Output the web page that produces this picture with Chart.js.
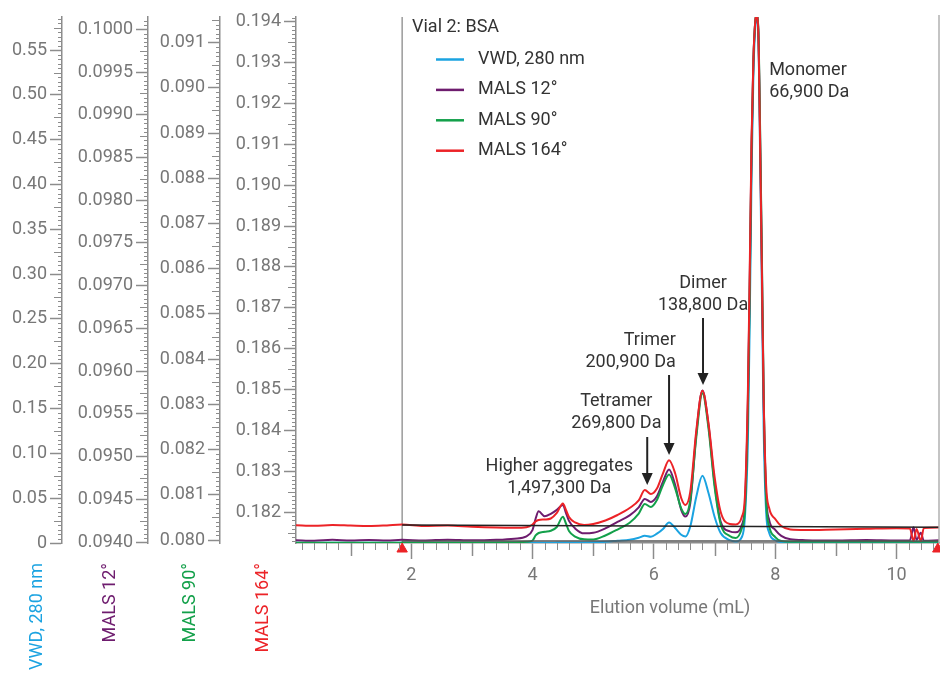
<!DOCTYPE html>
<html lang="en">
<head>
<meta charset="UTF-8">
<title>Vial 2: BSA</title>
<script src="https://cdn.jsdelivr.net/npm/chart.js"></script>
<style>
  html, body { margin: 0; padding: 0; background: #fff; }
  #wrap { width: 940px; height: 673px; }
</style>
</head>
<body>
<div id="wrap"><canvas id="secChart" width="940" height="673"></canvas></div>
<script>
// elution volume (mL), shared by all four traces
const elution = [0.1, 0.4, 0.7, 1.0, 1.3, 1.6, 1.85, 2.2, 2.6, 3.0,
  3.4, 3.7, 3.9, 4.0, 4.05, 4.1, 4.2, 4.3, 4.4, 4.5,
  4.55, 4.6, 4.7, 4.85, 5.0, 5.2, 5.4, 5.6, 5.75, 5.85,
  5.95, 6.05, 6.15, 6.25, 6.35, 6.45, 6.52, 6.6, 6.7, 6.8,
  6.9, 7.0, 7.1, 7.25, 7.35, 7.45, 7.5, 7.55, 7.58, 7.61,
  7.64, 7.67, 7.69, 7.72, 7.75, 7.78, 7.81, 7.85, 7.9, 8.0,
  8.1, 8.25, 8.5, 9.0, 9.5, 10.0, 10.22, 10.28, 10.33, 10.4,
  10.45, 10.7];

const vwd280 = [0.0003, 0.0003, 0.0003, 0.0003, 0.0003, 0.0003, 0.0003, 0.0003, 0.0003, 0.0003,
  0.0003, 0.0003, 0.0003, 0.0003, 0.0003, 0.0003, 0.0003, 0.0003, 0.00045, 0.00056,
  0.00056, 0.00056, 0.00056, 0.00067, 0.00089, 0.00145, 0.00256, 0.00368, 0.00591, 0.00814,
  0.00702, 0.01037, 0.01561, 0.02297, 0.01672, 0.00925, 0.00736, 0.01851, 0.05195, 0.07503,
  0.05575, 0.02932, 0.01115, 0.00312, 0.00178, 0.0067, 0.02821, 0.11517, 0.24896, 0.41062,
  0.52211, 0.57451, 0.58566, 0.57005, 0.43849, 0.2824, 0.12632, 0.0349, 0.01148, 0.00312,
  0.00089, 0.0003, 0.0003, 0.0003, 0.0003, 0.00056, 0.0003, 0.0003, 0.0003, 0.0003,
  0.0003, 0.0003];

const mals12 = [0.094023, 0.094016, 0.094027, 0.094019, 0.094025, 0.094018, 0.094027, 0.094019, 0.094029, 0.094021,
  0.094027, 0.094041, 0.094068, 0.094144, 0.094273, 0.094360, 0.094302, 0.094331, 0.094378, 0.094436,
  0.094343, 0.094249, 0.094161, 0.094103, 0.094109, 0.094161, 0.094237, 0.094313, 0.094407, 0.094506,
  0.094471, 0.094536, 0.094709, 0.094850, 0.094670, 0.094378, 0.094299, 0.094456, 0.095275, 0.095773,
  0.095372, 0.094690, 0.094241, 0.094126, 0.094115, 0.094202, 0.094436, 0.095664, 0.097068, 0.098647,
  0.099641, 0.100085, 0.100167, 0.100015, 0.098799, 0.097278, 0.095664, 0.094553, 0.094261, 0.094144,
  0.094074, 0.094033, 0.094023, 0.094019, 0.094025, 0.094019, 0.094021, 0.094173, 0.094027, 0.094109,
  0.094015, 0.094021];

const mals90 = [0.079940, 0.079940, 0.079942, 0.079940, 0.079940, 0.079942, 0.079940, 0.079940, 0.079942, 0.079940,
  0.079945, 0.079951, 0.079960, 0.079989, 0.080100, 0.080155, 0.080184, 0.080206, 0.080288, 0.080515,
  0.080365, 0.080199, 0.080077, 0.080015, 0.080011, 0.080100, 0.080232, 0.080383, 0.080586, 0.080796,
  0.080730, 0.080885, 0.081217, 0.081449, 0.081144, 0.080701, 0.080575, 0.080885, 0.082285, 0.083245,
  0.082471, 0.081179, 0.080354, 0.080088, 0.080044, 0.080259, 0.080664, 0.082876, 0.085530, 0.088627,
  0.090573, 0.091458, 0.091613, 0.091370, 0.089180, 0.086304, 0.083207, 0.080885, 0.080310, 0.080066,
  0.079978, 0.079962, 0.079962, 0.079960, 0.079962, 0.079962, 0.079962, 0.079962, 0.079962, 0.079962,
  0.079962, 0.079962];

const mals164 = [0.181682, 0.181670, 0.181687, 0.181675, 0.181665, 0.181680, 0.181699, 0.181665, 0.181675, 0.181645,
  0.181626, 0.181621, 0.181636, 0.181702, 0.181775, 0.181812, 0.181824, 0.181848, 0.181983, 0.182215,
  0.182056, 0.181885, 0.181751, 0.181689, 0.181714, 0.181799, 0.181934, 0.182105, 0.182289, 0.182545,
  0.182448, 0.182582, 0.182954, 0.183272, 0.182954, 0.182350, 0.182179, 0.182504, 0.184013, 0.184974,
  0.184177, 0.182871, 0.182015, 0.181714, 0.181702, 0.181892, 0.182374, 0.184991, 0.187927, 0.191106,
  0.193063, 0.193993, 0.194164, 0.193797, 0.191106, 0.187927, 0.184747, 0.182668, 0.182105, 0.181836,
  0.181665, 0.181579, 0.181567, 0.181582, 0.181596, 0.181609, 0.181604, 0.181298, 0.181592, 0.181298,
  0.181616, 0.181628];

// baselines and integration markers
const baselineVol = [1.85, 10.7];
const mals164Baseline = [0.181689, 0.181633];
const mals12Baseline = [0.094013, 0.094013];
const markerVol = [1.85, 10.68];
const markerLevel = 0.181102;

// tick labels
const volumeTicks = [2, 4, 6, 8, 10];
const vwdTicks = [0, 0.05, 0.1, 0.15, 0.2, 0.25, 0.3, 0.35, 0.4, 0.45, 0.5, 0.55];
const mals12Ticks = [0.094, 0.0945, 0.095, 0.0955, 0.096, 0.0965, 0.097, 0.0975, 0.098, 0.0985, 0.099, 0.0995, 0.1];
const mals90Ticks = [0.08, 0.081, 0.082, 0.083, 0.084, 0.085, 0.086, 0.087, 0.088, 0.089, 0.09, 0.091];
const mals164Ticks = [0.182, 0.183, 0.184, 0.185, 0.186, 0.187, 0.188, 0.189, 0.19, 0.191, 0.192, 0.193, 0.194];

const series = [
  { label: 'VWD, 280 nm', axis: 'yVwd', values: vwd280, color: '#1ba3e1', titleX: 37 },
  { label: 'MALS 12°', axis: 'yMals12', values: mals12, color: '#6e1c6e', titleX: 110 },
  { label: 'MALS 90°', axis: 'yMals90', values: mals90, color: '#13a04a', titleX: 190 },
  { label: 'MALS 164°', axis: 'yMals164', values: mals164, color: '#ec2327', titleX: 263 }
];

// peak labels: x in mL, y in px
const peakNotes = [
  { lines: ['Monomer', '66,900 Da'], vol: 7.9, y: 70, align: 'left' },
  { lines: ['Dimer', '138,800 Da'], vol: 6.81, y: 283, align: 'center' },
  { lines: ['Trimer', '200,900 Da'], vol: 6.36, y: 340, align: 'right' },
  { lines: ['Tetramer', '269,800 Da'], vol: 5.38, y: 401, align: 'center' },
  { lines: ['Higher aggregates', '1,497,300 Da'], vol: 4.44, y: 466, align: 'center' }
];
const arrows = [
  { vol: 6.81, from: 318, to: 385 },
  { vol: 6.25, from: 375, to: 455 },
  { vol: 5.89, from: 437, to: 485 }
];

const axisGray = '#8c8c8c';
const labelGray = '#777777';
const textDark = '#333333';
const tickFont = { family: 'Roboto', size: 18 };

function leftAxis(tickList, min, max, weight, width, digits) {
  return {
    type: 'linear', position: 'left', min: min, max: max, weight: weight,
    afterFit: s => { s.width = width; },
    afterBuildTicks: s => { s.ticks = tickList.map(v => ({ value: v })); },
    grid: { drawOnChartArea: false, drawTicks: true, tickLength: 12, color: axisGray, tickWidth: 1.5 },
    border: { display: true, color: axisGray, width: 1.5 },
    ticks: { color: labelGray, font: tickFont, padding: 3, autoSkip: false,
      callback: v => v === 0 ? '0' : v.toFixed(digits) }
  };
}

// minor ticks, right border, axis titles, legend and peak labels
const decorations = {
  id: 'decorations',
  afterDraw(chart) {
    const ctx = chart.ctx;
    const sc = chart.scales;
    const ca = chart.chartArea;
    ctx.save();
    ctx.strokeStyle = axisGray;
    ctx.lineWidth = 1;

    const minorSpec = [['yVwd', 0.005], ['yMals12', 0.00005], ['yMals90', 0.0001], ['yMals164', 0.0001]];
    minorSpec.forEach(([id, step]) => {
      const s = sc[id];
      const x = s.right;
      const k0 = Math.ceil(s.min / step - 1e-6);
      const k1 = Math.floor(s.max / step + 1e-6);
      for (let k = k0; k <= k1; k++) {
        if (k % 10 === 0) continue;
        const len = (k % 5 === 0) ? 8 : 4;
        const y = Math.round(s.getPixelForValue(k * step)) + 0.5;
        ctx.beginPath();
        ctx.moveTo(x - len, y);
        ctx.lineTo(x, y);
        ctx.stroke();
      }
    });

    const xs = sc.x;
    for (let k = Math.ceil(xs.min / 0.2); k <= Math.floor(xs.max / 0.2); k++) {
      let len = 7;
      if (k % 5 === 0) {
        if ((k / 5) % 2 === 0) continue;
        len = 13;
      }
      const x = Math.round(xs.getPixelForValue(k * 0.2)) + 0.5;
      ctx.lineWidth = len > 7 ? 1.5 : 1;
      ctx.beginPath();
      ctx.moveTo(x, xs.top);
      ctx.lineTo(x, xs.top + len);
      ctx.stroke();
    }

    // right frame line
    ctx.strokeStyle = '#b0b0b0';
    ctx.lineWidth = 1.5;
    ctx.beginPath();
    ctx.moveTo(ca.right, ca.top - 2);
    ctx.lineTo(ca.right, ca.bottom);
    ctx.stroke();

    ctx.font = '18px Roboto';
    ctx.textBaseline = 'middle';

    // x title
    ctx.fillStyle = labelGray;
    ctx.textAlign = 'center';
    ctx.fillText('Elution volume (mL)', 670, 608);

    // rotated y titles
    series.forEach(s => {
      ctx.save();
      ctx.translate(s.titleX, 563);
      ctx.rotate(-Math.PI / 2);
      ctx.textAlign = 'right';
      ctx.fillStyle = s.color;
      ctx.fillText(s.label, 0, 0);
      ctx.restore();
    });

    // legend
    ctx.textAlign = 'left';
    ctx.fillStyle = textDark;
    ctx.fillText('Vial 2: BSA', 412, 27);
    series.forEach((s, i) => {
      const y = 59.5 + i * 30.4;
      ctx.strokeStyle = s.color;
      ctx.lineWidth = 2.5;
      ctx.beginPath();
      ctx.moveTo(436, y);
      ctx.lineTo(464, y);
      ctx.stroke();
      ctx.fillStyle = textDark;
      ctx.fillText(s.label, 478, y);
    });

    // peak labels
    peakNotes.forEach(n => {
      ctx.textAlign = n.align;
      const x = xs.getPixelForValue(n.vol);
      n.lines.forEach((t, i) => ctx.fillText(t, x, n.y + i * 22.5));
    });

    ctx.strokeStyle = '#222';
    ctx.fillStyle = '#222';
    ctx.lineWidth = 2;
    arrows.forEach(a => {
      const x = xs.getPixelForValue(a.vol);
      ctx.beginPath();
      ctx.moveTo(x, a.from);
      ctx.lineTo(x, a.to - 8);
      ctx.stroke();
      ctx.beginPath();
      ctx.moveTo(x - 5.5, a.to - 12);
      ctx.lineTo(x + 5.5, a.to - 12);
      ctx.lineTo(x, a.to);
      ctx.closePath();
      ctx.fill();
    });
    ctx.restore();
  }
};

const pairs = (xs, ys) => xs.map((x, i) => ({ x: x, y: ys[i] }));

const datasets = [
  { data: pairs(markerVol, [markerLevel, markerLevel]), yAxisID: 'yMals164', showLine: false,
    pointStyle: 'triangle', pointRadius: 6, backgroundColor: '#ec2327', borderColor: '#ec2327', clip: false },
  { data: pairs(baselineVol, mals164Baseline), yAxisID: 'yMals164', borderColor: '#222', borderWidth: 1.5, pointRadius: 0 },
  { data: pairs(baselineVol, mals12Baseline), yAxisID: 'yMals12', borderColor: '#555', borderWidth: 1.5, pointRadius: 0 },
  { data: pairs([1.85, 1.85], [0.181249, 0.194115]), yAxisID: 'yMals164', borderColor: '#9a9a9a', borderWidth: 1.5, pointRadius: 0 }
];
series.slice().reverse().forEach(s => {
  datasets.splice(datasets.length - 1, 0, {
    label: s.label, data: pairs(elution, s.values), yAxisID: s.axis,
    borderColor: s.color, borderWidth: 2, pointRadius: 0,
    cubicInterpolationMode: 'monotone'
  });
});

new Chart(document.getElementById('secChart'), {
  type: 'line',
  data: { datasets: datasets },
  options: {
    responsive: false,
    animation: false,
    layout: { autoPadding: false, padding: { top: 17, left: 0, right: 1, bottom: 0 } },
    plugins: { legend: { display: false }, tooltip: { enabled: false } },
    scales: {
      x: {
        type: 'linear', position: 'bottom', min: 0.1, max: 10.7,
        afterFit: s => { s.height = 130; },
        afterBuildTicks: s => { s.ticks = volumeTicks.map(v => ({ value: v })); },
        grid: { drawOnChartArea: false, tickLength: 16, color: axisGray, tickWidth: 1.5 },
        border: { display: true, color: axisGray, width: 1.5 },
        ticks: { color: labelGray, font: tickFont, padding: 6, maxRotation: 0, autoSkip: false }
      },
      yVwd: leftAxis(vwdTicks, 0, 0.587, 4, 62, 2),
      yMals12: leftAxis(mals12Ticks, 0.09399, 0.100144, 3, 86, 4),
      yMals90: leftAxis(mals90Ticks, 0.079934, 0.091568, 2, 72, 3),
      yMals164: leftAxis(mals164Ticks, 0.181249, 0.194115, 1, 76, 3)
    }
  },
  plugins: [decorations]
});
</script>
</body>
</html>
